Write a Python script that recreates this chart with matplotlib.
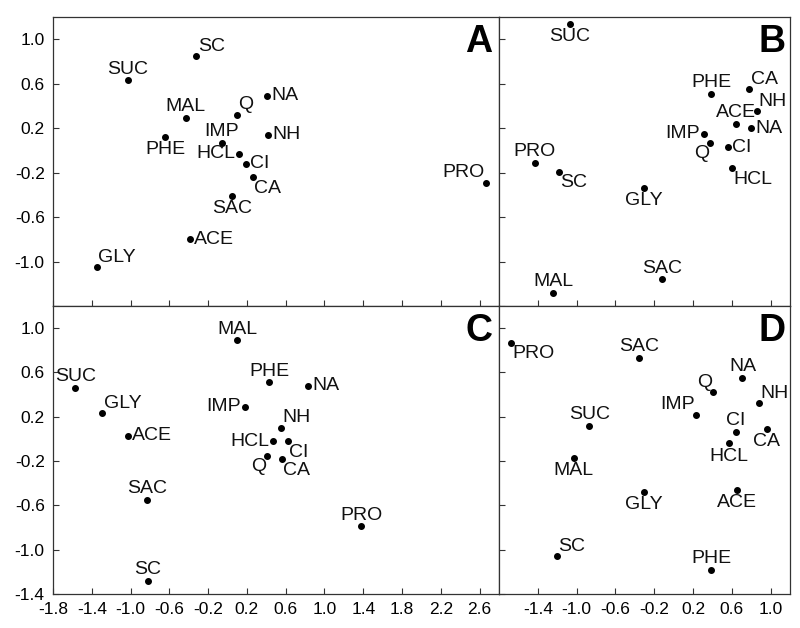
import matplotlib
matplotlib.use("Agg")
import matplotlib.pyplot as plt
import numpy as np

plt.rcParams['font.family'] = ['Liberation Sans', 'DejaVu Sans']

# point names and coordinates per panel
names_a = ["SC", "SUC", "MAL", "PHE", "IMP", "Q", "NA", "NH", "HCL", "CI", "CA", "SAC", "ACE", "GLY", "PRO"]
x_a = [-0.32, -1.03, -0.43, -0.64, -0.06, 0.10, 0.41, 0.42, 0.12, 0.19, 0.26, 0.05, -0.39, -1.35, 2.67]
y_a = [0.85, 0.63, 0.29, 0.12, 0.07, 0.32, 0.49, 0.14, -0.03, -0.12, -0.24, -0.41, -0.80, -1.05, -0.29]
pos_a = ["ur", "u", "u", "d", "u", "ur", "r", "r", "l", "r", "dr", "d", "r", "ur", "ul"]

names_b = ["SUC", "PHE", "CA", "NH", "ACE", "NA", "IMP", "Q", "CI", "HCL", "PRO", "SC", "GLY", "SAC", "MAL"]
x_b = [-1.07, 0.39, 0.78, 0.86, 0.64, 0.80, 0.31, 0.38, 0.56, 0.60, -1.43, -1.18, -0.31, -0.12, -1.24]
y_b = [1.14, 0.51, 0.55, 0.35, 0.24, 0.20, 0.15, 0.07, 0.03, -0.16, -0.11, -0.19, -0.34, -1.16, -1.28]
pos_b = ["d", "u", "ur", "ur", "u", "r", "l", "dl", "r", "dr", "u", "dr", "d", "u", "u"]

names_c = ["MAL", "PHE", "NA", "IMP", "NH", "HCL", "CI", "Q", "CA", "SUC", "GLY", "ACE", "SAC", "SC", "PRO"]
x_c = [0.10, 0.43, 0.83, 0.18, 0.55, 0.47, 0.62, 0.41, 0.56, -1.57, -1.29, -1.03, -0.83, -0.82, 1.38]
y_c = [0.89, 0.51, 0.48, 0.29, 0.10, -0.02, -0.02, -0.15, -0.18, 0.46, 0.23, 0.03, -0.55, -1.28, -0.79]
pos_c = ["u", "u", "r", "l", "ur", "l", "dr", "dl", "dr", "u", "ur", "r", "u", "u", "u"]

names_d = ["PRO", "SAC", "NA", "Q", "NH", "IMP", "SUC", "CA", "CI", "HCL", "MAL", "GLY", "ACE", "SC", "PHE"]
x_d = [-1.68, -0.36, 0.71, 0.41, 0.88, 0.23, -0.87, 0.96, 0.64, 0.57, -1.03, -0.31, 0.65, -1.20, 0.39]
y_d = [0.87, 0.73, 0.55, 0.42, 0.32, 0.22, 0.12, 0.09, 0.06, -0.04, -0.17, -0.48, -0.46, -1.06, -1.18]
pos_d = ["dr", "u", "u", "ul", "ur", "ul", "u", "d", "u", "d", "d", "d", "d", "ur", "u"]

y_ticks = [-1.4, -1.0, -0.6, -0.2, 0.2, 0.6, 1.0]
x_ticks_left = [-1.8, -1.4, -1.0, -0.6, -0.2, 0.2, 0.6, 1.0, 1.4, 1.8, 2.2, 2.6]
x_ticks_right = [-1.4, -1.0, -0.6, -0.2, 0.2, 0.6, 1.0]

# label offsets in points: (dx, dy, ha, va)
offsets = {
    "u": (0, 2, "center", "bottom"),
    "d": (0, -3, "center", "top"),
    "r": (3, 0, "left", "center"),
    "l": (-3, 0, "right", "center"),
    "ur": (1, 1, "left", "bottom"),
    "ul": (-1, 1, "right", "bottom"),
    "dr": (1, -2, "left", "top"),
    "dl": (-1, -2, "right", "top"),
}

fig = plt.figure(figsize=(8, 6.28), dpi=100)

left, mid, right = 53 / 800, 499 / 800, 790 / 800
top, hmid, bottom = 1 - 17 / 628, 1 - 306 / 628, 1 - 594 / 628

panels = [
    ("A", names_a, x_a, y_a, pos_a, [left, hmid, mid - left, top - hmid], (-1.8, 2.8), x_ticks_left, True, False),
    ("B", names_b, x_b, y_b, pos_b, [mid, hmid, right - mid, top - hmid], (-1.8, 1.2), x_ticks_right, False, False),
    ("C", names_c, x_c, y_c, pos_c, [left, bottom, mid - left, hmid - bottom], (-1.8, 2.8), x_ticks_left, True, True),
    ("D", names_d, x_d, y_d, pos_d, [mid, bottom, right - mid, hmid - bottom], (-1.8, 1.2), x_ticks_right, False, True),
]

for letter, names, xs, ys, pos, rect, xlim, xticks, ylab, xlab in panels:
    ax = fig.add_axes(rect)
    ax.scatter(xs, ys, s=16, color="black", zorder=3)
    for n, x, y, p in zip(names, xs, ys, pos):
        dx, dy, ha, va = offsets[p]
        ax.annotate(n, (x, y), xytext=(dx, dy), textcoords="offset points",
                    ha=ha, va=va, fontsize=14, color="#111111")
    ax.set_xlim(*xlim)
    ax.set_ylim(-1.4, 1.2)
    ax.set_xticks(xticks)
    ax.set_yticks(y_ticks)
    ax.tick_params(direction="in", length=4, width=0.8, labelsize=12.5, pad=6, color="#333333")
    if xlab:
        ax.set_xticklabels([f"{t:.1f}" for t in xticks])
    else:
        ax.set_xticklabels([])
    if ylab:
        if letter == "A":
            ax.set_yticklabels(["" if t == -1.4 else f"{t:.1f}" for t in y_ticks])
        else:
            ax.set_yticklabels([f"{t:.1f}" for t in y_ticks])
    else:
        ax.set_yticklabels([])
    for s in ax.spines.values():
        s.set_linewidth(0.9)
        s.set_color("#333333")
    ax.text(0.985, 0.975, letter, transform=ax.transAxes, ha="right", va="top",
            fontsize=27, fontweight="bold")

fig.savefig("out.png", dpi=100)
